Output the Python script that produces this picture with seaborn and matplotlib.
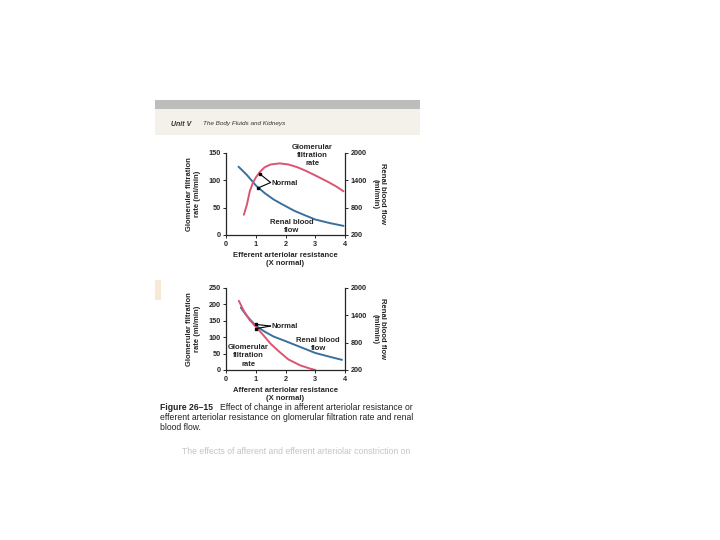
import matplotlib
matplotlib.use("Agg")
import matplotlib.pyplot as plt
import seaborn as sns

sns.set_theme(style="ticks")
plt.rcParams["font.family"] = ["Liberation Sans", "DejaVu Sans"]

# top panel: efferent arteriolar resistance
eff_gfr_x = [0.6, 0.7, 0.8, 0.9, 1.0, 1.15, 1.3, 1.5, 1.8, 2.1, 2.4, 2.7, 3.0, 3.4, 3.7, 3.95]
eff_gfr_y = [37, 55, 80, 95, 105, 116, 124, 129, 131, 129, 124, 117, 109, 98, 89, 80]
eff_rbf_x = [0.42, 0.7, 1.0, 1.3, 1.6, 1.9, 2.3, 2.7, 3.0, 3.5, 3.95]
eff_rbf_y = [1700, 1520, 1290, 1120, 980, 870, 730, 620, 540, 460, 400]

# bottom panel: afferent arteriolar resistance
aff_gfr_x = [0.43, 0.6, 0.8, 1.0, 1.2, 1.5, 1.8, 2.1, 2.5, 2.8, 3.0]
aff_gfr_y = [211, 180, 152, 132, 112, 80, 55, 32, 14, 5, 0]
aff_rbf_x = [0.5, 0.7, 1.0, 1.3, 1.6, 2.0, 2.5, 3.0, 3.5, 3.9]
aff_rbf_y = [1568, 1388, 1172, 1042, 934, 834, 704, 574, 488, 423]

x_ticks = [0, 1, 2, 3, 4]
top_left_ticks = [0, 50, 100, 150]
bot_left_ticks = [0, 50, 100, 150, 200, 250]
right_ticks = [200, 800, 1400, 2000]

RED = "#dc5470"
BLUE = "#3a6f9e"
FS = 5.5
TFS = 5.2
CFS = 6.2

fig = plt.figure(figsize=(7.2, 5.4), dpi=100)
fig.patch.set_facecolor("white")

W, H = 720, 540


def px_axes(x0, y0, x1, y1):
    return fig.add_axes([x0 / W, 1 - y1 / H, (x1 - x0) / W, (y1 - y0) / H])


# page header / caption
bg = fig.add_axes([0, 0, 1, 1])
bg.set_xlim(0, W)
bg.set_ylim(H, 0)
bg.axis("off")
bg.add_patch(plt.Rectangle((155, 100), 265, 9, color="#bdbdbd", lw=0))
bg.add_patch(plt.Rectangle((155, 109), 265, 26, color="#f4f1ea", lw=0))
bg.add_patch(plt.Rectangle((155, 280), 6, 20, color="#f6ead6", lw=0))
bg.text(171, 124, "Unit V", fontsize=5, style="italic", weight="bold", color="#333", va="center")
bg.text(203, 124, "The Body Fluids and Kidneys", fontsize=4.6, style="italic", color="#333", va="center")
bg.text(160, 408, "Figure 26–15", fontsize=CFS, weight="bold", color="#222", va="center")
bg.text(220, 408, "Effect of change in afferent arteriolar resistance or",
        fontsize=CFS, color="#222", va="center")
bg.text(160, 417.5, "efferent arteriolar resistance on glomerular filtration rate and renal",
        fontsize=CFS, color="#222", va="center")
bg.text(160, 427, "blood flow.", fontsize=CFS, color="#222", va="center")
bg.text(182, 451, "The effects of afferent and efferent arteriolar constriction on",
        fontsize=CFS, color="#c4c4c4", va="center")


def panel(y0, y1, ymax, lticks, gx, gy, rx, ry, xlabel):
    ax = px_axes(226, y0, 345, y1)
    ax2 = ax.twinx()
    sns.lineplot(x=gx, y=gy, ax=ax, color=RED, lw=1.4)
    sns.lineplot(x=rx, y=ry, ax=ax2, color=BLUE, lw=1.4)
    ax.set_xlim(0, 4)
    ax.set_ylim(0, ymax)
    ax2.set_ylim(200, 2000)
    ax.set_xticks(x_ticks)
    ax.set_yticks(lticks)
    ax2.set_yticks(right_ticks)
    for a in (ax, ax2):
        a.tick_params(labelsize=TFS, length=2, width=0.7, pad=2)
        for lab in a.get_xticklabels() + a.get_yticklabels():
            lab.set_fontweight("bold")
        for s in a.spines.values():
            s.set_linewidth(0.9)
        a.spines["top"].set_visible(False)
    ax.spines["right"].set_visible(False)
    ax2.spines["left"].set_visible(False)
    ax2.spines["bottom"].set_visible(False)
    ax.set_xlabel(xlabel + "\n(X normal)", fontsize=FS, weight="bold", labelpad=3, linespacing=1.3)
    ax.set_ylabel("Glomerular filtration\nrate (ml/min)", fontsize=FS, weight="bold",
                  labelpad=5, linespacing=1.2)
    ax2.set_ylabel("Renal blood flow\n(ml/min)", fontsize=FS, weight="bold", rotation=270,
                   labelpad=14, linespacing=1.2)
    ax.set_zorder(ax2.get_zorder() + 1)
    ax.patch.set_visible(False)
    return ax, ax2


ax, ax2 = panel(153, 235, 150, top_left_ticks, eff_gfr_x, eff_gfr_y, eff_rbf_x, eff_rbf_y,
                "Efferent arteriolar resistance")
ax.plot([1.13, 1.5], [112, 96], color="black", lw=0.8)
ax.plot([1.08, 1.5], [86, 96], color="black", lw=0.8)
ax.plot([1.13, 1.08], [112, 86], "s", color="black", ms=2)
ax.text(1.52, 95, "Normal", fontsize=FS, weight="bold", va="center")
ax.text(2.9, 145, "Glomerular\nfiltration\nrate", fontsize=FS, weight="bold", ha="center",
        va="center", linespacing=1.25, clip_on=False)
ax.text(2.2, 16, "Renal blood\nflow", fontsize=FS, weight="bold", ha="center", va="center",
        linespacing=1.25)

bx, bx2 = panel(288, 370, 250, bot_left_ticks, aff_gfr_x, aff_gfr_y, aff_rbf_x, aff_rbf_y,
                "Afferent arteriolar resistance")
bx.plot([1.0, 1.5], [139, 134], color="black", lw=0.8)
bx.plot([1.0, 1.5], [126, 134], color="black", lw=0.8)
bx.plot([1.0, 1.0], [139, 126], "s", color="black", ms=2)
bx.text(1.52, 134, "Normal", fontsize=FS, weight="bold", va="center")
bx.text(0.75, 43, "Glomerular\nfiltration\nrate", fontsize=FS, weight="bold", ha="center",
        va="center", linespacing=1.25)
bx.text(3.1, 77, "Renal blood\nflow", fontsize=FS, weight="bold", ha="center", va="center",
        linespacing=1.25)

fig.savefig("out.png", dpi=100)
